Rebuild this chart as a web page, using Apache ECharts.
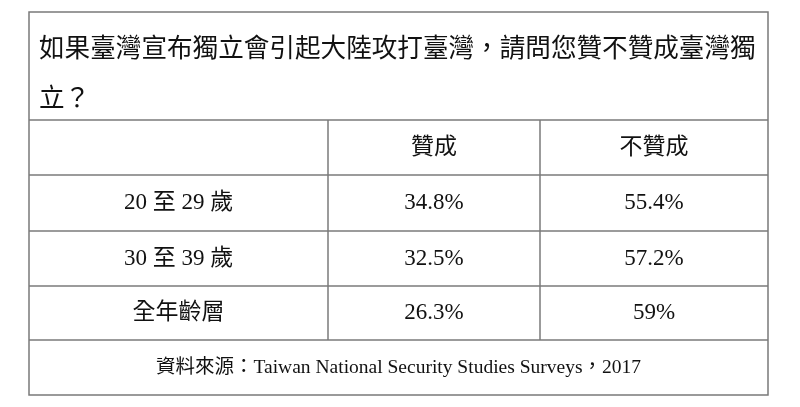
<!DOCTYPE html>
<html><head><meta charset="utf-8">
<script src="https://cdn.jsdelivr.net/npm/echarts@6/dist/echarts.min.js"></script>
<style>html,body{margin:0;background:#fff}#main{width:800px;height:407px}</style>
</head><body><div id="main"></div>
<script>
var titleLines = ['如果臺灣宣布獨立會引起大陸攻打臺灣，請問您贊不贊成臺灣獨', '立？'];
var columns = ['', '贊成', '不贊成'];
var groups = ['20 至 29 歲', '30 至 39 歲', '全年齡層'];
var approve = ['34.8%', '32.5%', '26.3%'];
var disapprove = ['55.4%', '57.2%', '59%'];
var source = '資料來源：Taiwan National Security Studies Surveys，2017';

var colX = [29, 328, 540, 768];
var rowY = [12, 120, 175, 231, 286, 340, 395];
var font = '"Liberation Serif", "Noto Sans CJK TC", serif';
var lineColor = '#7a7a7a';

var els = [];
els.push({ type: 'rect', shape: { x: colX[0], y: rowY[0], width: colX[3] - colX[0], height: rowY[6] - rowY[0] },
  style: { fill: 'none', stroke: lineColor, lineWidth: 1.5 } });
for (var i = 1; i < rowY.length - 1; i++) {
  els.push({ type: 'line', shape: { x1: colX[0], y1: rowY[i], x2: colX[3], y2: rowY[i] }, style: { stroke: lineColor, lineWidth: 1.5 } });
}
for (var j = 1; j < 3; j++) {
  els.push({ type: 'line', shape: { x1: colX[j], y1: rowY[1], x2: colX[j], y2: rowY[5] }, style: { stroke: lineColor, lineWidth: 1.5 } });
}
titleLines.forEach(function (t, k) {
  els.push({ type: 'text', x: 39, y: 47 + k * 50, style: { text: t, font: '25.6px "Noto Sans CJK TC"', fill: '#111', textVerticalAlign: 'middle' } });
});
function cell(txt, c, r) {
  els.push({ type: 'text', x: (colX[c] + colX[c + 1]) / 2, y: (rowY[r] + rowY[r + 1]) / 2,
    style: { text: txt, font: '23px ' + font, fill: '#111', textAlign: 'center', textVerticalAlign: 'middle' } });
}
columns.forEach(function (t, c) { cell(t, c, 1); });
groups.forEach(function (g, k) {
  cell(g, 0, k + 2);
  cell(approve[k], 1, k + 2);
  cell(disapprove[k], 2, k + 2);
});
els.push({ type: 'text', x: (colX[0] + colX[3]) / 2, y: (rowY[5] + rowY[6]) / 2,
  style: { text: source, font: '19.5px ' + font, fill: '#111', textAlign: 'center', textVerticalAlign: 'middle' } });

var myChart = echarts.init(document.getElementById('main'));
myChart.setOption({ backgroundColor: '#fff', graphic: { elements: els } });
</script></body></html>
